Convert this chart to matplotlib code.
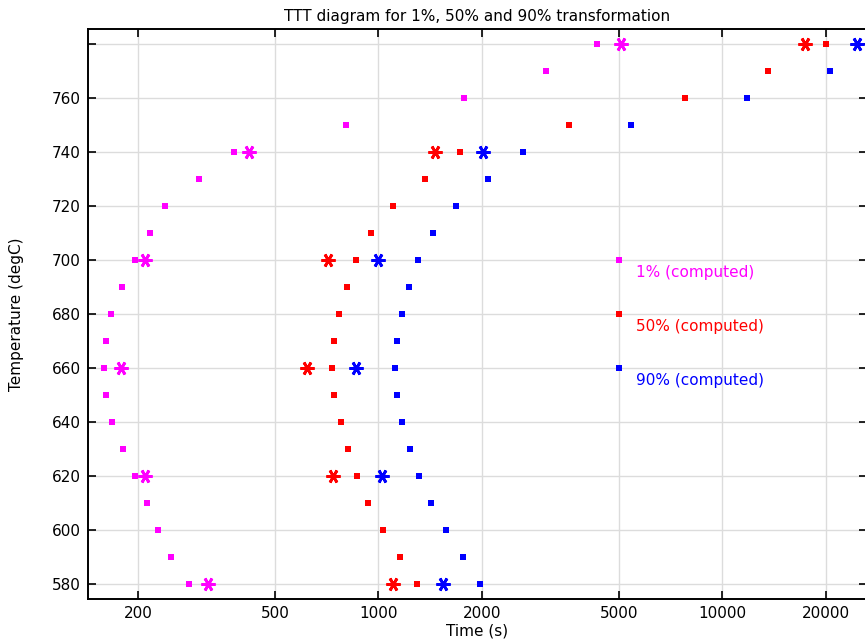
import matplotlib
matplotlib.use('Agg')
import matplotlib.pyplot as plt
from matplotlib.ticker import NullLocator, FixedLocator

# temperatures (degC)
temps = [580, 590, 600, 610, 620, 630, 640, 650, 660, 670,
         680, 690, 700, 710, 720, 730, 740, 750, 760, 770, 780]

# computed times (s)
t1_comp = [282, 250, 228, 213, 196, 181, 168, 161, 159, 161,
           167, 180, 196, 216, 240, 300, 381, 803, 1777, 3076, 4327]
t50_comp = [1298, 1153, 1031, 934, 868, 817, 777, 744, 734, 744,
            769, 812, 862, 953, 1105, 1369, 1730, 3588, 7800, 13600, 20050]
temps90 = temps[:-1]
t90_comp = [1978, 1766, 1576, 1425, 1315, 1239, 1173, 1135, 1117, 1135,
            1173, 1230, 1306, 1444, 1684, 2087, 2637, 5433, 11810, 20590]

# reference points (asterisks)
temps_ref = [580, 620, 660, 700, 740, 780]
t1_ref = [320, 210, 179, 210, 420, 5070]
t50_ref = [1105, 738, 621, 712, 1463, 17380]
t90_ref = [1544, 1024, 862, 995, 2018, 24550]

labels = ['1% (computed)', '50% (computed)', '90% (computed)']
colors = ['#ff00ff', '#ff0000', '#0000ff']
legend_t = 5000
legend_temps = [700, 680, 660]

xticks = [200, 500, 1000, 2000, 5000, 10000, 20000]
yticks = [580, 600, 620, 640, 660, 680, 700, 720, 740, 760, 780]

W, H = 865, 642
fig = plt.figure(figsize=(W / 100, H / 100), dpi=100)
ax = fig.add_axes([88 / W, (H - 599) / H, (867 - 88) / W, 570 / H])

star = (6, 2, 90)
series = [(t1_comp, temps, t1_ref), (t50_comp, temps, t50_ref), (t90_comp, temps90, t90_ref)]
for (tc, tt, tr), c in zip(series, colors):
    ax.plot(tc, tt, 's', color=c, markersize=4.3, markeredgewidth=0, zorder=3)
    ax.plot(tr, temps_ref, marker=star, linestyle='none', color=c,
            markersize=10, markeredgewidth=2, zorder=3)

for lab, c, ty in zip(labels, colors, legend_temps):
    ax.plot([legend_t], [ty], 's', color=c, markersize=4.3, markeredgewidth=0, zorder=3)
    ax.annotate(lab, (legend_t, ty), xytext=(12.5, -9), textcoords='offset points',
                color=c, fontsize=11, va='center', ha='left')

ax.set_xscale('log')
ax.set_xlim(143.1, 26320)
ax.set_ylim(574.6, 785.7)
ax.xaxis.set_major_locator(FixedLocator(xticks))
ax.xaxis.set_minor_locator(NullLocator())
ax.set_xticklabels([str(v) for v in xticks])
ax.set_yticks(yticks)
ax.set_yticklabels([str(v) if v < 780 else '' for v in yticks])

ax.grid(True, color='#dcdcdc', linewidth=1, zorder=0)
ax.set_axisbelow(True)
ax.tick_params(direction='in', length=6, width=1.2, top=True, right=True,
               labelsize=11, pad=5)
for s in ax.spines.values():
    s.set_linewidth(1.4)

ax.set_title('TTT diagram for 1%, 50% and 90% transformation', fontsize=11, pad=6)
ax.set_xlabel('Time (s)', fontsize=11, labelpad=2)
ax.set_ylabel('Temperature (degC)', fontsize=11, labelpad=20)

fig.savefig('out.png', dpi=100)
